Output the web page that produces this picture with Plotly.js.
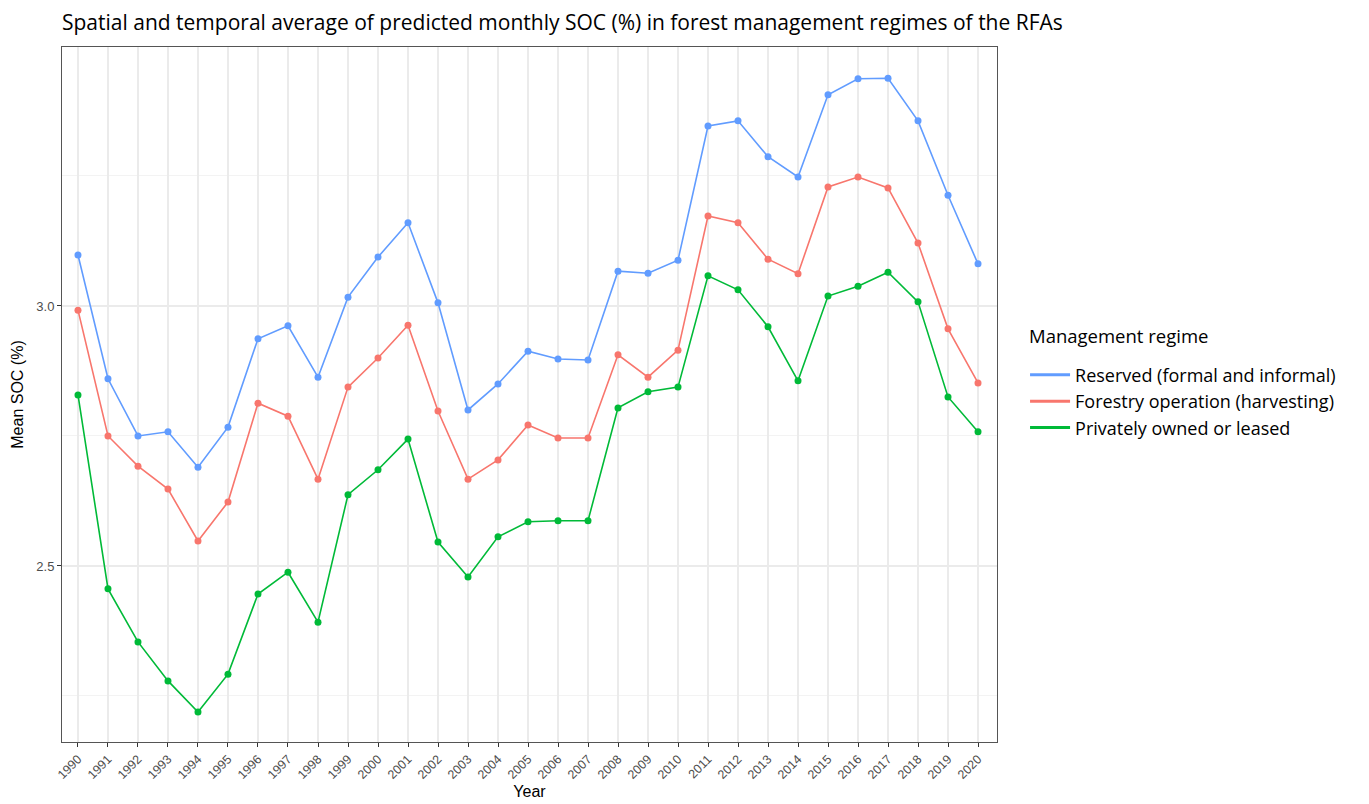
<!DOCTYPE html>
<html>
<head>
<meta charset="utf-8">
<script src="https://cdn.plot.ly/plotly-3.0.1.min.js"></script>
<style>html,body{margin:0;padding:0;background:#fff;}#chart{width:1369px;height:804px;}</style>
</head>
<body>
<div id="chart"></div>
<script>
const years = [1990,1991,1992,1993,1994,1995,1996,1997,1998,1999,2000,2001,2002,2003,2004,2005,2006,2007,2008,2009,2010,2011,2012,2013,2014,2015,2016,2017,2018,2019,2020];
const reserved = [3.098,2.860,2.750,2.758,2.690,2.767,2.937,2.962,2.863,3.017,3.094,3.160,3.006,2.800,2.850,2.913,2.898,2.896,3.067,3.063,3.088,3.346,3.356,3.287,3.248,3.406,3.437,3.438,3.356,3.213,3.081];
const forestry = [2.992,2.750,2.692,2.648,2.548,2.623,2.813,2.788,2.667,2.844,2.900,2.963,2.798,2.667,2.704,2.771,2.746,2.746,2.906,2.863,2.915,3.173,3.160,3.090,3.062,3.229,3.248,3.227,3.121,2.956,2.852];
const privateOwned = [2.829,2.456,2.354,2.279,2.219,2.292,2.446,2.488,2.392,2.637,2.685,2.744,2.546,2.479,2.556,2.585,2.587,2.587,2.804,2.835,2.844,3.058,3.031,2.960,2.856,3.019,3.038,3.065,3.008,2.825,2.758];
const seriesNames = ["Reserved (formal and informal)","Forestry operation (harvesting)","Privately owned or leased"];
const seriesColors = ["#619CFF","#F8766D","#00BA38"];
const seriesValues = [reserved, forestry, privateOwned];
const legendTitle = "Management regime";

const traces = [];
seriesValues.forEach((vals, i) => {
  traces.push({
    x: years, y: vals, type: 'scatter', mode: 'lines+markers',
    name: seriesNames[i], showlegend: false, legendgroup: 'g'+i,
    line: {color: seriesColors[i], width: 1.6},
    marker: {color: seriesColors[i], size: 7}
  });
});
seriesValues.forEach((vals, i) => {
  traces.push({
    x: [null], y: [null], type: 'scatter', mode: 'lines',
    name: seriesNames[i], showlegend: true, legendgroup: 'g'+i,
    line: {color: seriesColors[i], width: 3}
  });
});

const layout = {
  width: 1369, height: 804,
  paper_bgcolor: '#fff', plot_bgcolor: '#fff',
  margin: {l: 62, r: 372, t: 47, b: 62},
  title: {text: 'Spatial and temporal average of predicted monthly SOC (%) in forest management regimes of the RFAs',
    x: 0, xref: 'paper', xanchor: 'left', y: 0.972, yanchor: 'middle',
    font: {family: '"Open Sans", Lato, sans-serif', size: 21, color: '#000'}},
  xaxis: {
    range: [1989.467, 2020.633],
    tickvals: years, ticktext: years.map(String), tickangle: -45,
    tickfont: {family: '"Liberation Sans", Arial, sans-serif', size: 12.5, color: '#4d4d4d'},
    ticks: 'outside', ticklen: 4, tickcolor: '#333', tickwidth: 1,
    showgrid: true, gridcolor: '#ebebeb', gridwidth: 1.2,
    showline: true, mirror: true, linecolor: '#555', linewidth: 1,
    zeroline: false,
    title: {text: 'Year', standoff: 4, font: {family: '"Liberation Sans", Arial, sans-serif', size: 16, color: '#000'}}
  },
  yaxis: {
    range: [2.1615, 3.498],
    tick0: 0, dtick: 0.5, tickformat: '.1f',
    tickfont: {family: '"Liberation Sans", Arial, sans-serif', size: 13, color: '#4d4d4d'},
    ticks: 'outside', ticklen: 4, tickcolor: '#333', tickwidth: 1,
    showgrid: true, gridcolor: '#ebebeb', gridwidth: 1.2,
    minor: {dtick: 0.25, tick0: 0, showgrid: true, gridcolor: '#f3f3f3', gridwidth: 1, ticks: ''},
    showline: true, mirror: true, linecolor: '#555', linewidth: 1,
    zeroline: false,
    title: {text: 'Mean SOC (%)', standoff: 8, font: {family: '"Liberation Sans", Arial, sans-serif', size: 16, color: '#000'}}
  },
  showlegend: true,
  legend: {
    x: 1.03, xanchor: 'left', y: 0.5545, yanchor: 'top',
    font: {family: '"Open Sans", Lato, sans-serif', size: 18, color: '#000'},
    tracegroupgap: 0, itemwidth: 40, bgcolor: 'rgba(0,0,0,0)'
  },
  annotations: [{
    text: legendTitle, xref: 'paper', yref: 'paper', x: 1.032, y: 0.5856,
    xanchor: 'left', yanchor: 'middle', showarrow: false,
    font: {family: '"Open Sans", Lato, sans-serif', size: 18.5, color: '#000'}
  }]
};

Plotly.newPlot('chart', traces, layout, {displayModeBar: false, staticPlot: true});
</script>
</body>
</html>
